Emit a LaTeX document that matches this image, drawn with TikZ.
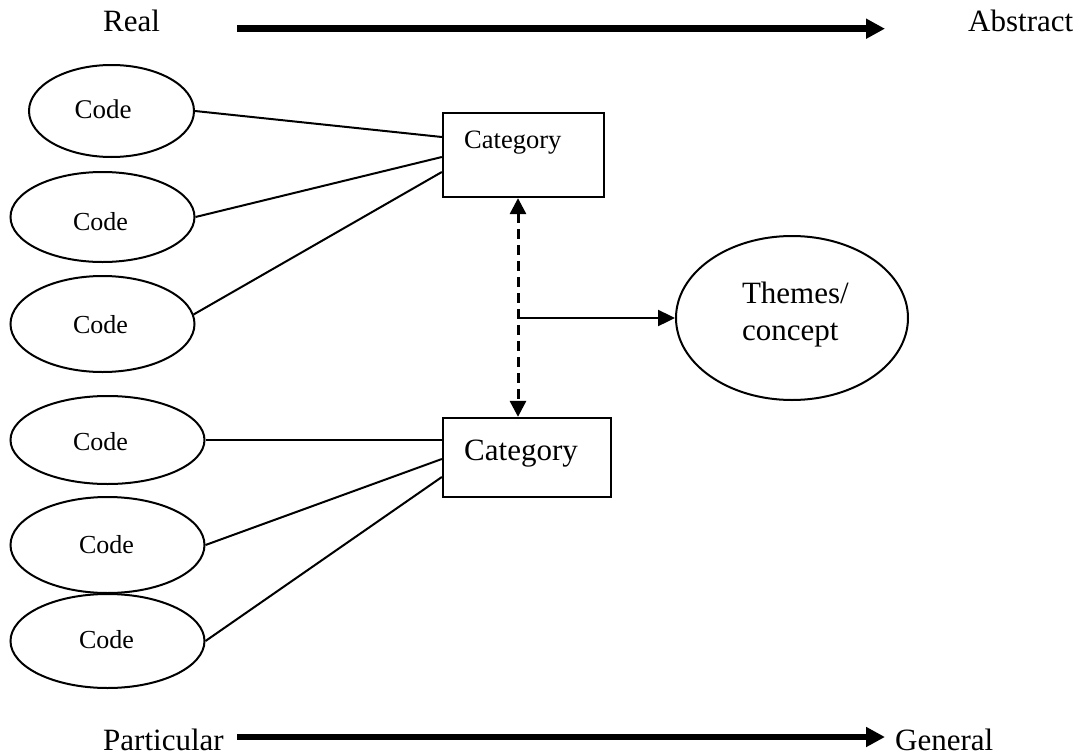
\documentclass[tikz,border=0pt]{standalone}
\usepackage{fontspec}
\setmainfont{Liberation Serif}
\usetikzlibrary{arrows.meta,shapes.geometric}
\begin{document}
\begin{tikzpicture}[x=1pt,y=-1pt,
  codeshape/.style={draw, ellipse, line width=2pt, inner sep=0pt},
  catbox/.style={draw, rectangle, line width=2.3pt, inner sep=0pt},
  labeltext/.style={font=\fontsize{31}{37}\selectfont, inner sep=0pt, anchor=base west},
  codetext/.style={font=\fontsize{26}{31}\selectfont, inner sep=0pt, anchor=base},
  link/.style={line width=2pt},
  bigarrow/.style={line width=6.5pt, -{Triangle[length=19pt,width=19pt]}},
  dasharrow/.style={line width=3pt, dash pattern=on 10pt off 6pt,
    {Triangle[length=16pt,width=16pt]}-{Triangle[length=16pt,width=16pt]}},
  solidarrow/.style={line width=2.4pt, -{Triangle[length=17pt,width=16pt]}}
]
\useasboundingbox (0,0) rectangle (1080,755);

% axis labels and axis arrows
\node[labeltext] (real) at (103,31.7) {Real};
\node[labeltext] (abstract) at (968,31.7) {Abstract};
\node[labeltext] (particular) at (103,750) {Particular};
\node[labeltext] (general) at (895,750) {General};
\coordinate (ta0) at (237,28.7);
\coordinate (ta1) at (885,28.7);
\coordinate (ba0) at (237,737);
\coordinate (ba1) at (885,737);
\draw[bigarrow] (ta0) -- (ta1);
\draw[bigarrow] (ba0) -- (ba1);

% category boxes
\node[catbox, minimum width=161pt, minimum height=84pt] (b1) at (523.5,155) {};
\node[inner sep=0pt, anchor=base west, font=\fontsize{26.5}{31}\selectfont] (b1t) at (464,148) {Category};
\node[catbox, minimum width=168pt, minimum height=79pt] (b2) at (527,457.5) {};
\node[inner sep=0pt, anchor=base west, font=\fontsize{31}{37}\selectfont] (b2t) at (464,460) {Category};

% codes of the upper category
\node[codeshape, minimum width=165pt, minimum height=92pt] (e1) at (111.5,111) {};
\node[codetext, font=\fontsize{27}{32}\selectfont] (e1t) at (103,118) {Code};
\node[codeshape, minimum width=184pt, minimum height=90pt] (e2) at (102.5,217) {};
\node[codetext] (e2t) at (100.5,230) {Code};
\node[codeshape, minimum width=184pt, minimum height=96pt] (e3) at (102.5,324) {};
\node[codetext] (e3t) at (100.5,333) {Code};

% codes of the lower category
\node[codeshape, minimum width=194pt, minimum height=88pt] (e4) at (107.5,440) {};
\node[codetext] (e4t) at (100.5,450) {Code};
\node[codeshape, minimum width=194pt, minimum height=96pt] (e5) at (107.5,545) {};
\node[codetext] (e5t) at (106.5,553) {Code};
\node[codeshape, minimum width=194pt, minimum height=94pt] (e6) at (107.5,641) {};
\node[codetext] (e6t) at (106.5,648) {Code};

% themes / concept
\node[codeshape, minimum width=232pt, minimum height=164pt] (th) at (792,318) {};
\node[inner sep=0pt, align=left, font=\fontsize{31}{37}\selectfont] (tht) at (795.4,314.2) {Themes/\\concept};

% code-to-category links
\draw[link] (e1.east) -- ([yshift=18pt]b1.west);
\draw[link] (e2.east) -- ([yshift=-2pt]b1.west);
\draw[link] (e3.6) -- ([yshift=-17pt]b1.west);
\draw[link] (e4.east) -- ([yshift=17.5pt]b2.west);
\draw[link] (e5.east) -- ([yshift=-1.5pt]b2.west);
\draw[link] (e6.east) -- ([yshift=-19.5pt]b2.west);

% categories to themes
\coordinate (dm) at (518,318);
\draw[dasharrow] (dm |- b1.south) -- (dm |- b2.north);
\draw[solidarrow] (dm) -- (th.west);
\end{tikzpicture}
\end{document}
